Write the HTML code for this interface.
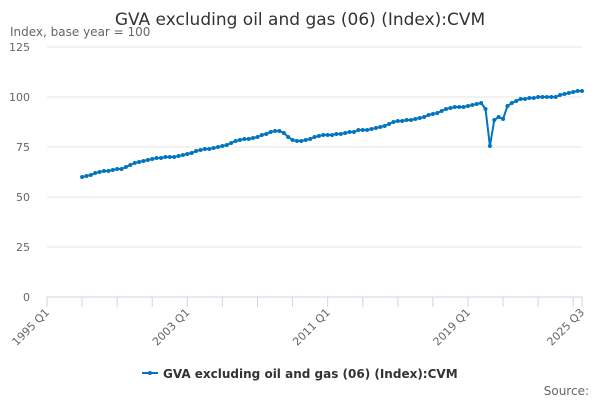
<!DOCTYPE html>
<html><head><meta charset="utf-8"><style>
body{margin:0;background:#fff;font-family:"DejaVu Sans","Liberation Sans",sans-serif}
svg{display:block}
</style></head><body>
<svg id="chart" width="600" height="400" xmlns="http://www.w3.org/2000/svg" font-family="DejaVu Sans, Liberation Sans, sans-serif">
<text x="300" y="25" text-anchor="middle" font-size="17" fill="#333">GVA excluding oil and gas (06) (Index):CVM</text>
<text x="10" y="36" font-size="12" fill="#666">Index, base year = 100</text>
<g id="grid"></g><g id="xaxis"></g><g id="series"></g>
<g>
<line x1="142" y1="373" x2="158" y2="373" stroke="#0075c0" stroke-width="2"/>
<circle cx="150" cy="373" r="2" fill="#0075c0"/>
<text x="163" y="378" font-size="12" font-weight="bold" fill="#333">GVA excluding oil and gas (06) (Index):CVM</text>
</g>
<text x="589" y="395" text-anchor="end" font-size="12" fill="#666">Source:</text>
</svg>
<script>
const yTicks=[0,25,50,75,100,125];
const xTickLabels=["1995 Q1","2003 Q1","2011 Q1","2019 Q1","2025 Q3"];
const xTickIdx=[0,32,64,96,122];
const startIdx=8; // 1997 Q1
const values=[
60,60.5,61,62, 62.5,63,63,63.5, 64,64,65,66, 67,67.5,68,68.5,
69,69.5,69.5,70, 70,70,70.5,71, 71.5,72,73,73.5, 74,74,74.5,75,
75.5,76,77,78, 78.5,79,79,79.5, 80,81,81.5,82.5, 83,83,82,80,
78.5,78,78,78.5, 79,80,80.5,81, 81,81,81.5,81.5, 82,82.5,82.5,83.5,
83.5,83.5,84,84.5, 85,85.5,86.5,87.5, 88,88,88.5,88.5, 89,89.5,90,91,
91.5,92,93,94, 94.5,95,95,95, 95.5,96,96.5,97, 94,75.5,88.5,90,
89,95.5,97,98, 99,99,99.5,99.5, 100,100,100,100, 100,101,101.5,102,
102.5,103,103];
const NS="http://www.w3.org/2000/svg";
const x=i=>47+i*(582-47)/122;
const y=v=>297-v*2;
function mk(t,a,p){const e=document.createElementNS(NS,t);for(const k in a)e.setAttribute(k,a[k]);p.appendChild(e);return e;}
const grid=document.getElementById('grid');
yTicks.forEach(v=>{
  const l=mk('line',{x1:47,x2:582,y1:y(v),y2:y(v),stroke:v===0?'#ccd6eb':'#e6e6e6','stroke-width':1},grid);
  
  
  const t=mk('text',{x:30,y:y(v)+4,'text-anchor':'end','font-size':11,fill:'#666'},grid);
  t.textContent=v;
  
  
});
const xa=document.getElementById('xaxis');
for(let i=0;i<=122;i+=8){
  const tk=mk('line',{x1:x(i),x2:x(i),y1:297,y2:307,stroke:'#ccd6eb'},xa);
  
  
}
mk('line',{x1:x(122),x2:x(122),y1:297,y2:307,stroke:'#ccd6eb'},xa);
xTickLabels.forEach((s,k)=>{
  const px=x(xTickIdx[k]);
  const t=mk('text',{x:px+3,y:313,'text-anchor':'end','font-size':11,fill:'#666',transform:`rotate(-45 ${px+3} 313)`},xa);
  t.textContent=s;
  
  
});
const ser=document.getElementById('series');
const pts=values.map((v,i)=>x(startIdx+i).toFixed(2)+','+y(v).toFixed(2)).join(' ');
const pl=mk('polyline',{points:pts,fill:'none',stroke:'#0075c0','stroke-width':2},ser);


values.forEach((v,i)=>{
  const c=mk('circle',{cx:x(startIdx+i),cy:y(v),r:2,fill:'#0075c0'},ser);
  
  
});
</script>
</body></html>
